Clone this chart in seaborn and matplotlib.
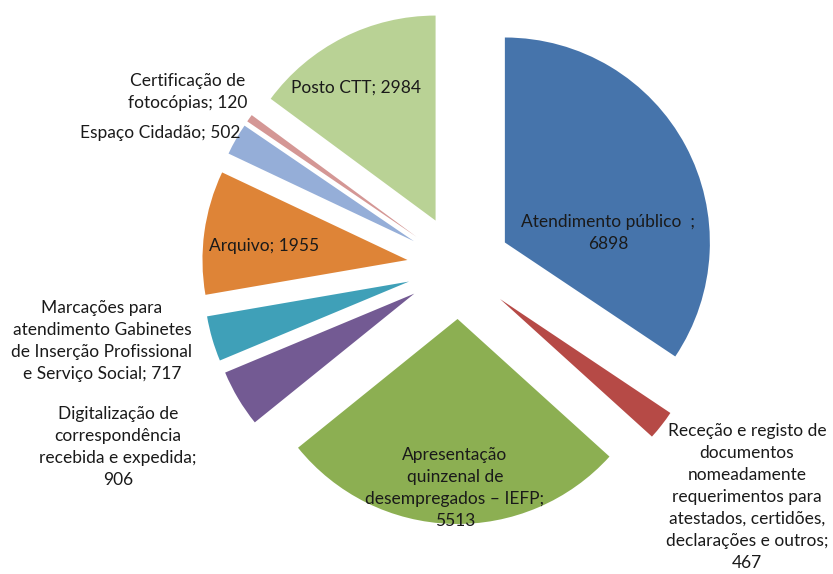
import matplotlib
matplotlib.use("Agg")
import matplotlib.pyplot as plt
import seaborn as sns

# data (clockwise from 12 o'clock)
categories = [
    "Atendimento público  ;",
    "Receção e registo de\ndocumentos\nnomeadamente\nrequerimentos para\natestados, certidões,\ndeclarações e outros;",
    "Apresentação\nquinzenal de\ndesempregados – IEFP;",
    "Digitalização de\ncorrespondência\nrecebida e expedida;",
    "Marcações para\natendimento Gabinetes\nde Inserção Profissional\ne Serviço Social;",
    "Arquivo;",
    "Espaço Cidadão;",
    "Certificação de\nfotocópias;",
    "Posto CTT;",
]
values = [6898, 467, 5513, 906, 717, 1955, 502, 120, 2984]

colors = ["#4674AB", "#B64A46", "#8CAF52", "#735A93", "#3FA0B8",
          "#DE8437", "#95AED8", "#D49795", "#B9D295"]

sns.set_theme(style="white")
plt.rcParams["font.family"] = ["Lato", "DejaVu Sans"]

W, H = 833, 574
fig = plt.figure(figsize=(W / 100, H / 100), dpi=100)
ax = fig.add_axes([0, 0, 1, 1])

# pie drawn in pixel-like data units
wedges, _ = ax.pie(values, colors=sns.color_palette(colors),
                   startangle=90, counterclock=False,
                   radius=205, center=(459, H - 267),
                   explode=[52] * len(values),
                   wedgeprops=dict(linewidth=0))

ax.set_xlim(0, W)
ax.set_ylim(0, H)
ax.set_aspect("equal")
ax.axis("off")

# value goes on same line for some labels, next line for others
same_line = {4, 5, 6, 7, 8}
label_pos = [(608, 233), (747, 497), (455, 488), (118, 447), (102, 341),
             (264, 246), (160, 133), (188, 92), (356, 88)]
for i, (x, y) in enumerate(label_pos):
    sep = " " if i in same_line else "\n"
    ax.text(x, H - y, f"{categories[i]}{sep}{values[i]}",
            ha="center", va="center", fontsize=12.5,
            linespacing=1.45, color="#1a1a1a")

fig.savefig("out.png", dpi=100)
